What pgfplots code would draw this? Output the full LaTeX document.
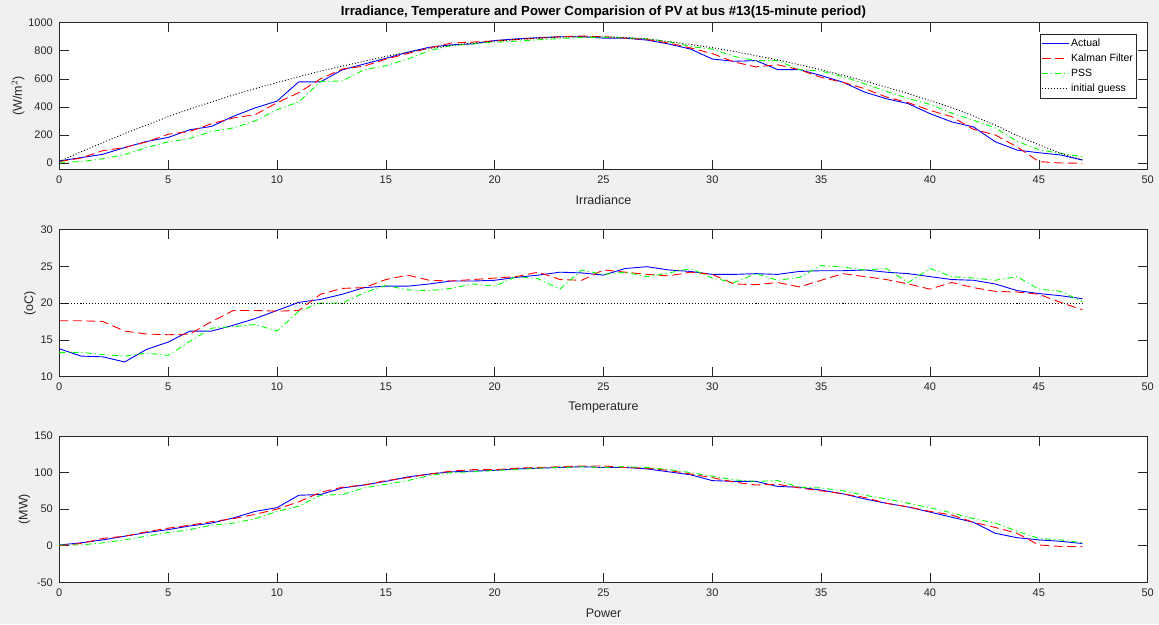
\documentclass[border=0pt]{standalone}
\usepackage{fontspec}
\setmainfont{Liberation Sans}
\usepackage{pgfplots}
\pgfplotsset{compat=1.18}
\usepackage{pgfplotstable}
\definecolor{figbg}{RGB}{240,240,240}
\definecolor{axgray}{RGB}{38,38,38}

% irradiance: actual, kalman filter, pss, initial guess
\pgfplotstableread{
x act kf pss ig
0 15 10 5 10
1 38 35 10 80
2 62 88 30 145
3 110 110 60 210
4 153 150 110 270
5 182 205 150 330
6 237 225 175 385
7 261 280 225 435
8 333 321 250 485
9 393 345 300 530
10 441 429 380 573
11 578 501 435 615
12 578 600 580 655
13 664 670 585 690
14 705 690 665 725
15 746 740 693 760
16 789 780 741 790
17 825 820 800 815
18 842 855 837 838
19 849 862 849 855
20 873 870 861 868
21 885 880 868 880
22 893 890 878 890
23 900 900 887 897
24 900 905 895 900
25 890 900 895 900
26 890 890 892 895
27 876 880 885 885
28 848 855 865 865
29 812 820 830 845
30 741 780 812 822
31 725 720 760 795
32 730 685 730 765
33 666 700 730 735
34 666 665 665 700
35 623 610 655 665
36 576 575 615 625
37 505 530 565 585
38 458 470 510 540
39 423 430 460 495
40 352 375 418 445
41 293 330 355 395
42 257 240 305 335
43 151 200 250 270
44 92 115 155 195
45 73 10 95 130
46 57 0 68 70
47 21 -2 45 22
}\irrtab

% temperature
\pgfplotstableread{
x act kf pss ig
0 13.8 17.6 13.3 20
1 12.8 17.6 13.3 20
2 12.7 17.5 13.0 20
3 12.0 16.2 12.8 20
4 13.7 15.8 13.2 20
5 14.7 15.7 12.9 20
6 16.2 15.8 14.8 20
7 16.2 17.5 16.6 20
8 17.0 19.0 16.8 20
9 17.9 19.0 17.1 20
10 19.0 18.9 16.2 20
11 20.1 19.0 18.9 20
12 20.5 21.2 20.0 20
13 21.2 22.0 20.0 20
14 22.1 22.1 21.4 20
15 22.3 23.2 22.4 20
16 22.3 23.8 21.8 20
17 22.6 23.1 21.7 20
18 23.0 23.0 22.0 20
19 23.0 23.2 22.6 20
20 23.1 23.4 22.3 20
21 23.5 23.6 23.6 20
22 23.8 24.2 23.3 20
23 24.2 23.2 21.9 20
24 24.1 23.1 24.5 20
25 23.8 24.5 23.9 20
26 24.7 24.2 24.2 20
27 24.95 23.9 23.6 20
28 24.5 23.7 24.1 20
29 24.3 24.2 24.7 20
30 23.9 23.9 23.4 20
31 23.9 22.6 22.8 20
32 24.0 22.5 24.0 20
33 23.9 22.8 23.1 20
34 24.3 22.2 23.5 20
35 24.4 23.1 25.1 20
36 24.4 24.0 24.9 20
37 24.5 23.6 24.5 20
38 24.2 23.2 24.7 20
39 24.0 22.6 22.8 20
40 23.6 21.9 24.7 20
41 23.2 22.8 23.6 20
42 23.1 22.1 23.4 20
43 22.6 21.6 23.1 20
44 21.7 21.5 23.6 20
45 21.3 21.2 21.9 20
46 21.0 20.1 21.6 20
47 20.6 19.1 20.2 20
}\temptab

% power
\pgfplotstableread{
x act kf pss
0 1 0 1
1 4 3 1
2 8 10 4
3 13 13 8
4 18 19 13
5 22 24 18
6 27 28 22
7 31 33 28
8 38 37 31
9 47 43 37
10 52 50 47
11 69 60 54
12 70 73 69
13 79 80 70
14 83 83 79
15 88 89 84
16 94 93 89
17 98 98 96
18 101 102 100
19 102 104 101
20 103 104 103
21 105 106 104
22 106 107 106
23 107 108 107
24 108 109 108
25 107 109 107
26 107 107 108
27 105 106 107
28 101 103 104
29 97 98 100
30 89 93 95
31 88 87 90
32 88 83 88
33 81 84 89
34 80 79 80
35 76 75 79
36 71 71 75
37 64 66 69
38 58 58 64
39 53 53 58
40 46 47 52
41 39 42 45
42 32 32 37
43 17 25 31
44 11 17 20
45 8 1 10
46 6 -1 8
47 3 -1 4
}\powtab

\pgfplotsset{
  matstyle/.style={
    scale only axis, width=1088.4pt,
    xmin=0, xmax=50, xtick={0,5,...,50},
    tick align=inside, major tick length=9.5pt,
    axis line style={axgray, line width=0.6pt},
    every tick/.style={axgray, line width=0.6pt},
    tick label style={font=\fontsize{11}{12}\selectfont, text=axgray},
    /pgf/number format/assume math mode=true,
    /pgf/number format/1000 sep={},
    xticklabel shift=3pt, yticklabel shift=3pt,
    label style={font=\fontsize{12.5}{14}\selectfont, text=axgray},
    xlabel style={at={(axis description cs:0.5,0)}, anchor=center, yshift=-31pt},
    axis background/.style={fill=white},
  },
  act/.style={draw=blue, line width=0.9pt},
  kf/.style={draw=red, line width=0.9pt, dash pattern=on 9pt off 4.5pt},
  pss/.style={draw=green, line width=0.9pt, dash pattern=on 6pt off 3pt on 1.2pt off 3pt},
  ig/.style={draw=black, line width=0.9pt, dash pattern=on 1pt off 2pt},
}

\begin{document}
\begin{tikzpicture}
\fill[figbg] (0,0) rectangle (1159pt,624pt);

\begin{axis}[matstyle,
    at={(59.3pt,454.7pt)}, anchor=south west, height=146.6pt,
    ymin=-45, ymax=1000, ytick={0,200,...,1000},
    xlabel={Irradiance}, ylabel={(W/m$^2$)},
    ylabel style={at={(axis description cs:-0.0379,0.5)}, anchor=center},
    title={Irradiance, Temperature and Power Comparision of PV at bus \#13(15-minute period)},
    title style={at={(axis description cs:0.5,1)}, anchor=center, yshift=4.5pt,
        font=\bfseries\fontsize{13.2}{15}\selectfont, text=black},
    legend style={at={(axis description cs:0.9899,0.9195)}, anchor=north east,
        font=\fontsize{10.5}{12}\selectfont, draw=axgray, inner xsep=1.5pt, inner ysep=2.5pt,
        row sep=2pt, cells={anchor=west}},
    legend image code/.code={\draw[#1] (0pt,0pt) -- (27pt,0pt);},
]
\addplot[act] table[x=x, y=act] {\irrtab};
\addlegendentry{Actual}
\addplot[kf] table[x=x, y=kf] {\irrtab};
\addlegendentry{Kalman Filter}
\addplot[pss] table[x=x, y=pss] {\irrtab};
\addlegendentry{PSS}
\addplot[ig] table[x=x, y=ig] {\irrtab};
\addlegendentry{initial guess}
\end{axis}

\begin{axis}[matstyle,
    at={(59.3pt,247.3pt)}, anchor=south west, height=147.2pt,
    ymin=10, ymax=30, ytick={10,15,...,30},
    xlabel={Temperature}, ylabel={(oC)},
    ylabel style={at={(axis description cs:-0.027,0.5)}, anchor=center},
]
\addplot[act] table[x=x, y=act] {\temptab};
\addplot[kf] table[x=x, y=kf] {\temptab};
\addplot[pss] table[x=x, y=pss] {\temptab};
\addplot[ig] table[x=x, y=ig] {\temptab};
\end{axis}

\begin{axis}[matstyle,
    at={(59.3pt,41.7pt)}, anchor=south west, height=146.3pt,
    ymin=-50, ymax=150, ytick={-50,0,...,150},
    xlabel={Power}, ylabel={(MW)},
    ylabel style={at={(axis description cs:-0.032,0.5)}, anchor=center},
]
\addplot[act] table[x=x, y=act] {\powtab};
\addplot[kf] table[x=x, y=kf] {\powtab};
\addplot[pss] table[x=x, y=pss] {\powtab};
\end{axis}

\pgfresetboundingbox
\path[use as bounding box] (0,0) rectangle (1159pt,624pt);
\end{tikzpicture}
\end{document}
